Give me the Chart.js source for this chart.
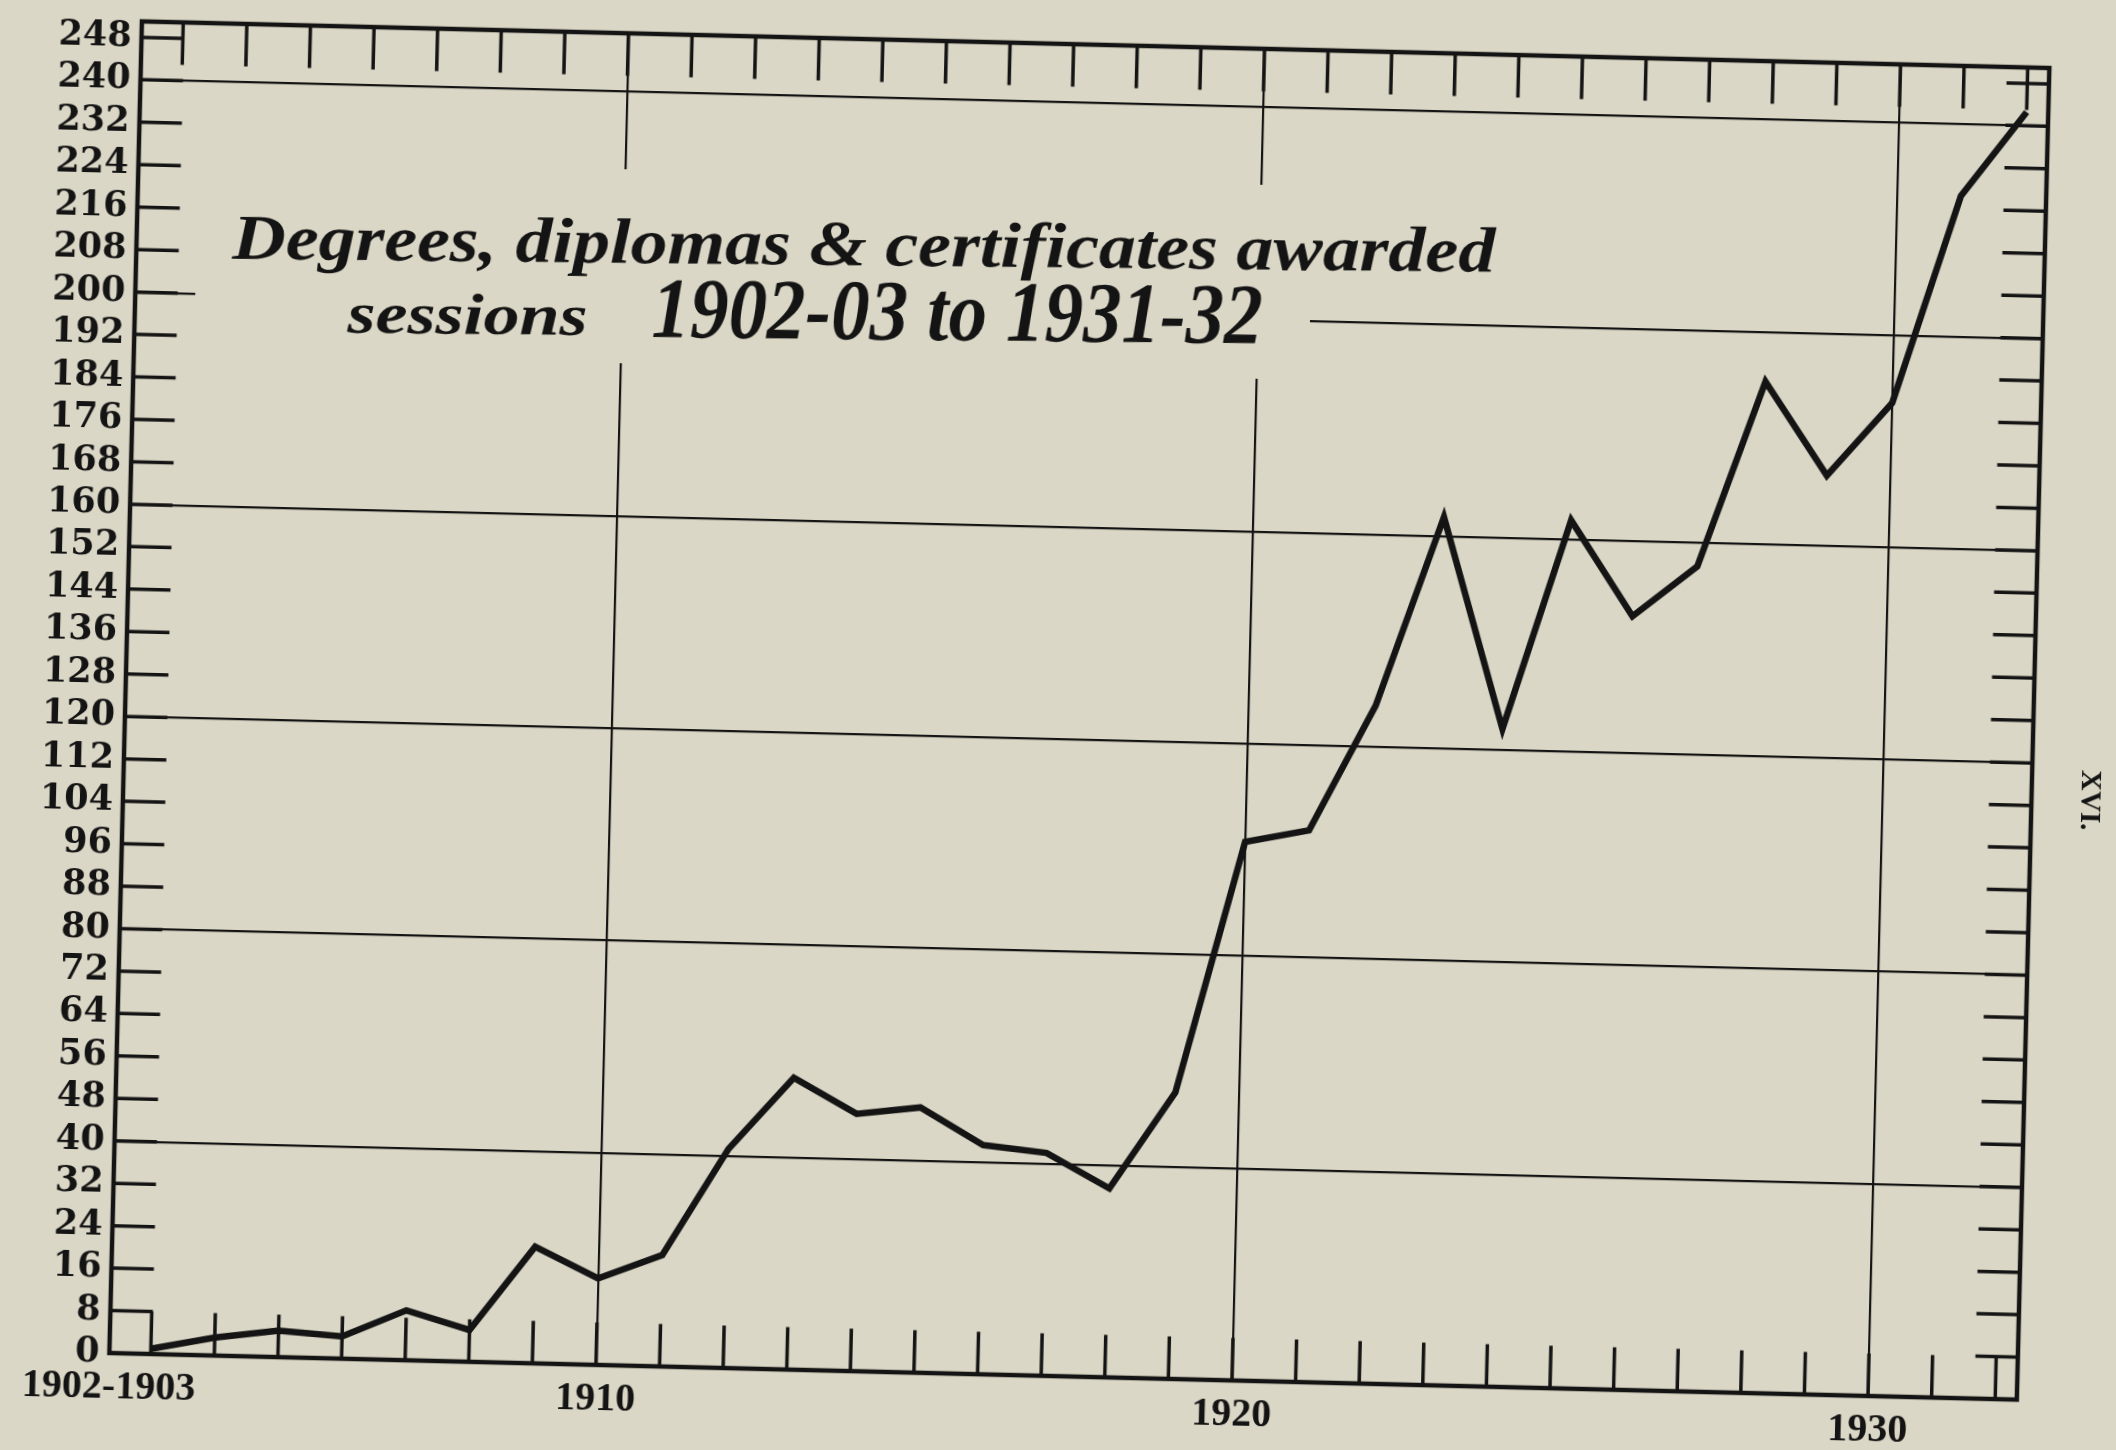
<!DOCTYPE html>
<html>
<head>
<meta charset="utf-8">
<title>Degrees, diplomas & certificates awarded</title>
<script src="https://cdn.jsdelivr.net/npm/chart.js@4.4.1/dist/chart.umd.min.js"></script>
<style>
  html, body { margin: 0; padding: 0; background: #dbd7c6; overflow: hidden; }
  /* the printed sheet sits slightly turned on the page */
  #sheet { position: absolute; left: 0; top: 0; width: 2116px; height: 1450px;
           transform: rotate(1.4deg); transform-origin: 1058px 725px; }
</style>
</head>
<body>
<div id="sheet"><canvas id="chart"></canvas></div>
<script>
  const sessions = [
    '1902-03', '1903-04', '1904-05', '1905-06', '1906-07', '1907-08',
    '1908-09', '1909-10', '1910-11', '1911-12', '1912-13', '1913-14',
    '1914-15', '1915-16', '1916-17', '1917-18', '1918-19', '1919-20',
    '1920-21', '1921-22', '1922-23', '1923-24', '1924-25', '1925-26',
    '1926-27', '1927-28', '1928-29', '1929-30', '1930-31', '1931-32'
  ];

  const awards = [
    1, 3.4, 5, 4.2, 9.4, 6,
    22, 16.3, 21, 41.3, 55, 48.5,
    50, 43.2, 42, 35.6, 54, 101.5,
    104, 127.8, 163.6, 124, 163.6, 145.8,
    155.5, 190.6, 173.2, 187.2, 226.5, 242.6
  ];

  const xTickLabels = ['1902-1903', '1910', '1920', '1930'];
  const xTickSessions = ['1902-03', '1909-10', '1919-20', '1929-30'];

  const yTickValues = [0, 8, 16, 24, 32, 40, 48, 56, 64, 72, 80, 88, 96, 104, 112, 120,
                       128, 136, 144, 152, 160, 168, 176, 184, 192, 200, 208, 216, 224, 232, 240, 248];
  const yGridValues = [40, 80, 120, 160, 200, 240];

  const titleLine1 = 'Degrees, diplomas & certificates awarded';
  const titleLine2a = 'sessions';
  const titleLine2b = '1902-03 to 1931-32';
  const pageNumber = 'XVI.';

  const ink = '#141414';
  const paper = '#dbd7c6';

  function drawFit(ctx, text, x, y, width, font, angle) {
    ctx.save();
    ctx.font = font;
    const w = ctx.measureText(text).width;
    ctx.translate(x, y);
    ctx.rotate(angle);
    ctx.scale(width / w, 1);
    ctx.textAlign = 'left';
    ctx.textBaseline = 'alphabetic';
    ctx.fillStyle = ink;
    ctx.fillText(text, 0, 0);
    ctx.restore();
  }

  const sheetPlugin = {
    id: 'sheet',
    afterDatasetsDraw(chart) {
      const ctx = chart.ctx;
      const { left, right, top, bottom } = chart.chartArea;
      const xs = chart.scales.x, ys = chart.scales.y;

      // title sits on a clear patch of paper
      ctx.save();
      ctx.fillStyle = paper;
      ctx.fillRect(185, 180, 1330, 122);
      ctx.fillRect(185, 298, 1115, 76);
      ctx.restore();

      drawFit(ctx, titleLine1, 221, 279, 1263, 'italic bold 64px "Liberation Serif"', -0.014);
      drawFit(ctx, titleLine2a, 338, 350, 240, 'italic bold 58px "Liberation Serif"', -0.014);
      drawFit(ctx, titleLine2b, 642, 347, 611, 'italic bold 86px "Liberation Serif"', -0.014);

      // frame
      ctx.save();
      ctx.strokeStyle = ink;
      ctx.lineWidth = 4.5;
      ctx.strokeRect(left, top, right - left, bottom - top);

      // inward tick marks on all four sides
      const tl = ys.getPixelForValue(0) - ys.getPixelForValue(8);
      ctx.lineWidth = 3.5;
      ctx.beginPath();
      for (let i = 0; i < sessions.length; i++) {
        const px = xs.getPixelForValue(i);
        ctx.moveTo(px, bottom); ctx.lineTo(px, bottom - tl);
        ctx.moveTo(px, top); ctx.lineTo(px, top + tl);
      }
      for (const v of yTickValues) {
        const py = ys.getPixelForValue(v);
        ctx.moveTo(left, py); ctx.lineTo(left + tl, py);
        ctx.moveTo(right, py); ctx.lineTo(right - tl, py);
      }
      ctx.stroke();

      // page number in the margin
      ctx.translate(2090, 775);
      ctx.rotate(Math.PI / 2);
      ctx.font = 'bold 29px "Liberation Serif"';
      ctx.fillStyle = ink;
      ctx.textAlign = 'center';
      ctx.textBaseline = 'middle';
      ctx.fillText(pageNumber, 0, 0);
      ctx.restore();
    }
  };

  const data = {
    datasets: [{
      label: 'Degrees, diplomas & certificates awarded',
      data: awards.map((v, i) => ({ x: i, y: v })),
      borderColor: ink,
      borderWidth: 6.5,
      borderJoinStyle: 'miter',
      pointRadius: 0,
      tension: 0,
      fill: false
    }]
  };

  const config = {
    type: 'line',
    data: data,
    plugins: [sheetPlugin],
    options: {
      responsive: true,
      maintainAspectRatio: false,
      animation: false,
      devicePixelRatio: 1,
      layout: { padding: { top: 44, right: 83, left: 0, bottom: 0 } },
      plugins: {
        legend: { display: false },
        tooltip: { enabled: false }
      },
      scales: {
        x: {
          type: 'linear',
          min: -0.65,
          max: 29.34,
          afterBuildTicks: scale => {
            scale.ticks = xTickSessions.map((s, i) =>
              ({ value: i === 0 ? scale.min : sessions.indexOf(s) }));
          },
          afterFit: scale => { scale.height = 74; },
          border: { display: false },
          grid: { color: ink, lineWidth: 2.2, drawTicks: false },
          ticks: {
            autoSkip: false,
            maxRotation: 0,
            padding: 11,
            color: ink,
            font: { family: 'Liberation Serif', size: 40, weight: 'bold' },
            callback: (value, index) => xTickLabels[index]
          }
        },
        y: {
          min: 0,
          max: 251,
          afterBuildTicks: scale => {
            scale.ticks = yTickValues.map(v => ({ value: v }));
          },
          afterFit: scale => { scale.width = 125; },
          border: { display: false },
          grid: {
            color: c => yGridValues.includes(c.tick.value) ? ink : 'rgba(0,0,0,0)',
            lineWidth: 2.2,
            drawTicks: false
          },
          ticks: {
            autoSkip: false,
            padding: 10,
            color: ink,
            font: { family: 'DejaVu Serif', size: 35, weight: 'bold' }
          }
        }
      }
    }
  };

  const myChart = new Chart(document.getElementById('chart'), config);
</script>
</body>
</html>
